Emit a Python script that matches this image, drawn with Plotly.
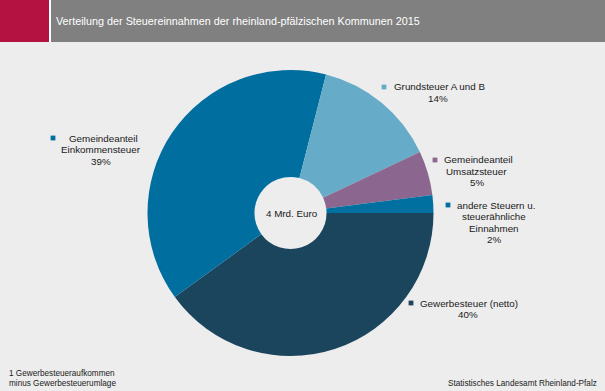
import plotly.graph_objects as go

W, H = 605, 391

title_text = "Verteilung der Steuereinnahmen der rheinland-pfälzischen Kommunen 2015"
categories = ["Gewerbesteuer (netto)", "Gemeindeanteil Einkommensteuer", "Grundsteuer A und B",
              "Gemeindeanteil Umsatzsteuer", "andere Steuern u. steuerähnliche Einnahmen"]
values = [40, 39, 14, 5, 2]
pct_labels = ["40%", "39%", "14%", "5%", "2%"]
colors = ["#1a455d", "#006fa0", "#66abc8", "#8b668f", "#0070a1"]
center_text = "4 Mrd. Euro"
footnote_lines = ["1 Gewerbesteueraufkommen", "minus Gewerbesteuerumlage"]
source_text = "Statistisches Landesamt Rheinland-Pfalz"

# label layout: first line text, following lines (incl. percent)
label_lines = [
    ["Gewerbesteuer (netto)"],
    ["Gemeindeanteil", "Einkommensteuer"],
    ["Grundsteuer A und B"],
    ["Gemeindeanteil", "Umsatzsteuer"],
    ["andere Steuern u.", "steuerähnliche", "Einnahmen"],
]
# positions in pixels: square center (x,y), first-line text x, center x for rest
label_pos = [
    (411, 303, 418, 468),
    (53, 138, 67, 101),
    (384, 87, 392, 438),
    (435, 160, 442, 477),
    (448, 205, 455, 494),
]

FONT = "Liberation Sans, Arial, sans-serif"
TXT = "#1a1a1a"


def px(x, y):
    return x / W, 1 - y / H


fig = go.Figure()
fig.add_trace(go.Pie(
    labels=categories, values=values, sort=False, direction="clockwise", rotation=90,
    hole=0.252, textinfo="none", hoverinfo="label+percent",
    marker=dict(colors=colors, line=dict(width=0)),
    domain=dict(x=[147.5 / W, 433.5 / W], y=[1 - 356 / H, 1 - 70 / H]),
    showlegend=False,
))

shapes = [
    dict(type="rect", xref="paper", yref="paper", x0=0, x1=49 / W, y0=1 - 42 / H, y1=1,
         fillcolor="#b41240", line=dict(width=0), layer="below"),
    dict(type="rect", xref="paper", yref="paper", x0=49 / W, x1=51 / W, y0=1 - 42 / H, y1=1,
         fillcolor="#ffffff", line=dict(width=0), layer="below"),
    dict(type="rect", xref="paper", yref="paper", x0=51 / W, x1=1, y0=1 - 42 / H, y1=1,
         fillcolor="#808080", line=dict(width=0), layer="below"),
]

annotations = []
tx, ty = px(54, 21)
annotations.append(dict(x=tx, y=ty, xref="paper", yref="paper", text=title_text, showarrow=False,
                        xanchor="left", yanchor="middle", font=dict(family=FONT, size=10.8, color="#ffffff")))
cx, cy = px(292, 213)
annotations.append(dict(x=cx, y=cy, xref="paper", yref="paper", text=center_text, showarrow=False,
                        xanchor="center", yanchor="middle", font=dict(family=FONT, size=9.8, color=TXT)))

step = 11.5
for i, lines in enumerate(label_lines):
    sx, sy, tx0, cxl = label_pos[i]
    s = 2.4
    shapes.append(dict(type="rect", xref="paper", yref="paper",
                       x0=(sx - s) / W, x1=(sx + s) / W, y0=1 - (sy + s) / H, y1=1 - (sy - s) / H,
                       fillcolor=colors[i], line=dict(width=0)))
    x, y = px(tx0, sy)
    annotations.append(dict(x=x, y=y, xref="paper", yref="paper", text=lines[0], showarrow=False,
                            xanchor="left", yanchor="middle", font=dict(family=FONT, size=9.8, color=TXT)))
    rest = lines[1:] + [pct_labels[i]]
    for j, t in enumerate(rest):
        x, y = px(cxl, sy + step * (j + 1))
        annotations.append(dict(x=x, y=y, xref="paper", yref="paper", text=t, showarrow=False,
                                xanchor="center", yanchor="middle", font=dict(family=FONT, size=9.8, color=TXT)))

for k, t in enumerate(footnote_lines):
    x, y = px(7, 373 + 10.5 * k)
    annotations.append(dict(x=x, y=y, xref="paper", yref="paper", text=t, showarrow=False,
                            xanchor="left", yanchor="middle", font=dict(family=FONT, size=8.2, color=TXT)))
x, y = px(599, 383)
annotations.append(dict(x=x, y=y, xref="paper", yref="paper", text=source_text, showarrow=False,
                        xanchor="right", yanchor="middle", font=dict(family=FONT, size=8.2, color=TXT)))

fig.update_layout(
    width=W, height=H, margin=dict(l=0, r=0, t=0, b=0),
    paper_bgcolor="#ededed", plot_bgcolor="#ededed",
    shapes=shapes, annotations=annotations,
)
fig.write_html("out.html", config={"displayModeBar": False},
               post_script="document.body.style.margin='0';document.body.style.padding='0';"
                           "document.body.style.overflow='hidden';")
